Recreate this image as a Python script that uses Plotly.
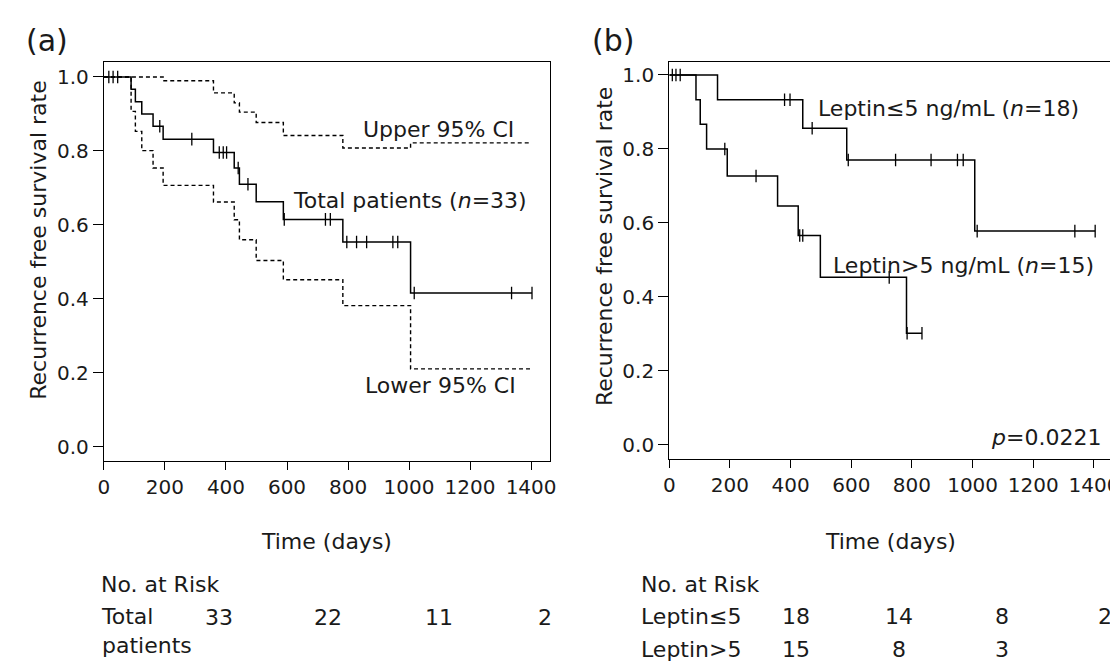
import plotly.graph_objects as go
import numpy as np

W, H = 1118, 663
FONT = "DejaVu Sans"

# ---------------- Panel (a) data ----------------
total_t = [0, 89, 103, 124, 161, 194, 359, 427, 444, 499, 588, 783, 1005]
total_s = [1.0, 0.967, 0.933, 0.900, 0.867, 0.832, 0.796, 0.754, 0.710, 0.663, 0.615, 0.554, 0.416]
total_end = 1403
total_cens = [16, 30, 45, 183, 288, 378, 391, 402, 440, 472, 591, 726, 742,
              796, 828, 861, 947, 963, 1017, 1336, 1403]

upper_t = [0, 194, 359, 427, 444, 499, 588, 783, 1005]
upper_s = [1.0, 0.990, 0.957, 0.930, 0.905, 0.877, 0.842, 0.808, 0.822]
lower_t = [0, 89, 103, 124, 161, 194, 359, 427, 444, 499, 588, 783, 1005]
lower_s = [1.0, 0.907, 0.853, 0.801, 0.754, 0.707, 0.662, 0.614, 0.560, 0.504, 0.452, 0.382, 0.211]
ci_end = 1400

# ---------------- Panel (b) data ----------------
low_t = [0, 159, 440, 585, 1007]
low_s = [1.0, 0.933, 0.856, 0.770, 0.578]
low_end = 1404
low_cens = [10, 22, 36, 380, 398, 471, 590, 746, 863, 950, 969, 1015, 1337, 1404]

high_t = [0, 88, 102, 123, 191, 357, 425, 498, 782]
high_s = [1.0, 0.933, 0.867, 0.800, 0.727, 0.646, 0.566, 0.453, 0.302]
high_end = 833
high_cens = [183, 286, 430, 440, 725, 784, 833]

# risk table
risk_a_label = "Total<br>patients"
risk_a_values = [33, 22, 11, 2]
risk_b_labels = ["Leptin≤5", "Leptin>5"]
risk_b_values = [[18, 14, 8, 2], [15, 8, 3, None]]

xticks = [0, 200, 400, 600, 800, 1000, 1200, 1400]
yticks = [0.0, 0.2, 0.4, 0.6, 0.8, 1.0]
ytick_text = ["0.0", "0.2", "0.4", "0.6", "0.8", "1.0"]


def step_xy(t, s, end):
    return list(t) + [end], list(s) + [s[-1]]


def cens_y(t, s, c):
    idx = np.searchsorted(np.array(t), np.array(c), side="right") - 1
    return [s[i] for i in idx]


fig = go.Figure()


def add_curve(t, s, end, xa, ya, dash=None, width=1.5):
    x, y = step_xy(t, s, end)
    fig.add_trace(go.Scatter(x=x, y=y, mode="lines", line_shape="hv",
                             line=dict(color="black", width=width, dash=dash),
                             xaxis=xa, yaxis=ya, showlegend=False, hoverinfo="skip"))


def add_cens(t, s, c, xa, ya):
    fig.add_trace(go.Scatter(x=c, y=cens_y(t, s, c), mode="markers",
                             marker=dict(symbol="line-ns", size=9,
                                         line=dict(color="black", width=1.3)),
                             xaxis=xa, yaxis=ya, showlegend=False, hoverinfo="skip"))


# panel a
add_curve(upper_t, upper_s, ci_end, "x", "y", dash="4px,3px", width=1.4)
add_curve(lower_t, lower_s, ci_end, "x", "y", dash="4px,3px", width=1.4)
add_curve(total_t, total_s, total_end, "x", "y")
add_cens(total_t, total_s, total_cens, "x", "y")

# panel b
add_curve(low_t, low_s, low_end, "x2", "y2")
add_cens(low_t, low_s, low_cens, "x2", "y2")
add_curve(high_t, high_s, high_end, "x2", "y2")
add_cens(high_t, high_s, high_cens, "x2", "y2")


def px_x(p):
    return p / W


def px_y(p):
    return 1 - p / H


axis_common = dict(showline=True, linecolor="black", linewidth=1.3, mirror=True,
                   ticks="outside", tickcolor="black", tickwidth=1.3,
                   showgrid=False, zeroline=False,
                   tickfont=dict(family=FONT, size=20, color="#1a1a1a"))

fig.update_layout(
    width=W, height=H, margin=dict(l=0, r=0, t=0, b=0),
    paper_bgcolor="white", plot_bgcolor="white", showlegend=False,
    xaxis=dict(domain=[px_x(91), px_x(542)], range=[0, 1461], tickvals=xticks,
               ticklen=8, anchor="y", **axis_common),
    yaxis=dict(domain=[px_y(453), px_y(54)], range=[-0.038, 1.0405], tickvals=yticks,
               ticktext=ytick_text, ticklen=10, anchor="x", **axis_common),
    xaxis2=dict(domain=[px_x(663), px_x(1112)], range=[0, 1463], tickvals=xticks,
                ticklen=8, anchor="y2", **axis_common),
    yaxis2=dict(domain=[px_y(451), px_y(54)], range=[-0.038, 1.035], tickvals=yticks,
                ticktext=ytick_text, ticklen=10, anchor="x2", **axis_common),
)

ann = []
tf = dict(family=FONT, size=22, color="#1a1a1a")


def A(text, x, y, xref="paper", yref="paper", xanchor="center", yanchor="middle", font=tf, **kw):
    ann.append(dict(text=text, x=x, y=y, xref=xref, yref=yref, xanchor=xanchor,
                    yanchor=yanchor, showarrow=False, font=font, **kw))


# panel titles
A("(a)", px_x(10), px_y(32), xanchor="left", font=dict(family=FONT, size=30, color="#1a1a1a"))
A("(b)", px_x(583), px_y(32), xanchor="left", font=dict(family=FONT, size=30, color="#1a1a1a"))

# y titles
A("Recurrence free survival rate", px_x(25), px_y(232), textangle=-90)
A("Recurrence free survival rate", px_x(597), px_y(239), textangle=-90)

# x titles
A("Time (days)", px_x(316), px_y(533))
A("Time (days)", px_x(887), px_y(533))

# in-plot labels a
A("Upper 95% CI", 1098, 0.858, xref="x", yref="y")
A("Total patients (<i>n</i>=33)", 1003, 0.665, xref="x", yref="y")
A("Lower 95% CI", 1102, 0.165, xref="x", yref="y")

# in-plot labels b
A("Leptin≤5 ng/mL (<i>n</i>=18)", 919, 0.909, xref="x2", yref="y2")
A("Leptin>5 ng/mL (<i>n</i>=15)", 969, 0.486, xref="x2", yref="y2")
A("<i>p</i>=0.0221", 1242, 0.019, xref="x2", yref="y2")

# risk tables
A("No. at Risk", px_x(86), px_y(576), xanchor="left")
A("No. at Risk", px_x(632), px_y(576), xanchor="left")

A(risk_a_label, px_x(86), px_y(623), xanchor="left", align="left")
col_a = [207, 318, 430, 537]
for j, v in enumerate(risk_a_values):
    A(str(v), px_x(col_a[j]), px_y(609))

col_b = [791, 895, 1000, 1104]
row_b = [608, 641]
for i, lab in enumerate(risk_b_labels):
    A(lab, px_x(632), px_y(row_b[i]), xanchor="left")
    for j, v in enumerate(risk_b_values[i]):
        if v is not None:
            A(str(v), px_x(col_b[j]), px_y(row_b[i]))

fig.update_layout(annotations=ann)
fig.write_html("out.html")
